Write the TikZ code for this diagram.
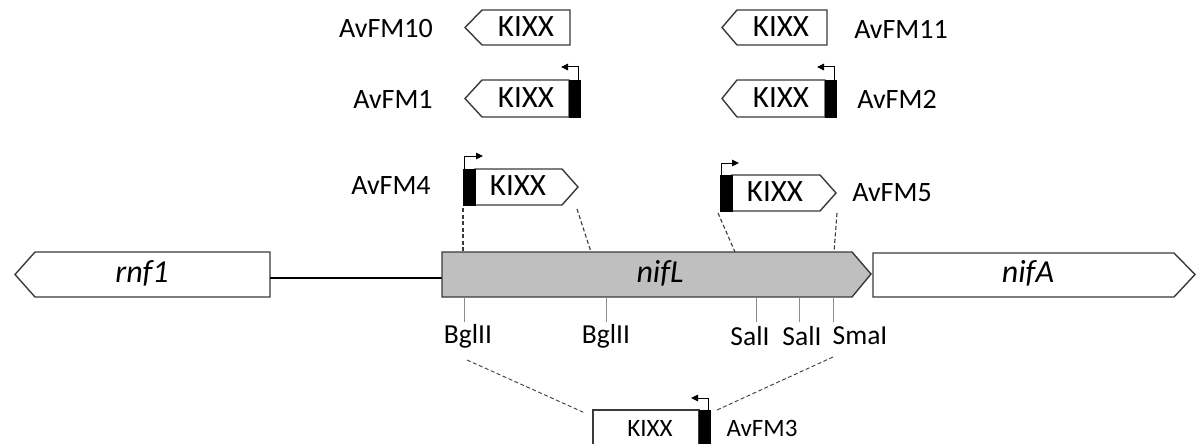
\documentclass[tikz,border=0pt]{standalone}
\usepackage{fontspec}
\setmainfont{Carlito}
\usetikzlibrary{arrows.meta}
\definecolor{edge}{HTML}{3A3A3A}
\definecolor{genegray}{HTML}{BFBFBF}
\definecolor{tickgray}{HTML}{8C8C8C}
\begin{document}
\begin{tikzpicture}[x=1pt,y=-1pt,
  gene/.style={draw=edge, line width=1.4pt, line join=miter, fill=white},
  marker/.style={fill=black, draw=black, line width=0.6pt},
  prom/.style={draw=black, line width=1pt, -{Triangle[length=7pt,width=6.5pt]}},
  link/.style={draw=edge, line width=1.1pt, dash pattern=on 4pt off 2.5pt},
  sitetick/.style={draw=tickgray, line width=1pt},
  big/.style={font=\fontsize{32}{36}\selectfont\itshape},
  kixx/.style={font=\fontsize{31}{34}\selectfont},
  tag/.style={font=\fontsize{28}{32}\selectfont},
  site/.style={font=\fontsize{27.5}{30}\selectfont},
  small/.style={font=\fontsize{25}{28}\selectfont}]
\useasboundingbox (0,0) rectangle (1199,444);
\clip (0,0) rectangle (1199,444);

% ---- chromosome: rnf1 - spacer - nifL - nifA ----
\draw[gene] (35,252) -- (270,252) -- (270,297) -- (35,297) -- (15,274.5) -- cycle;
\node[big] (rnf) at (142,273) {rnf1};
\draw[draw=black, line width=2pt] (270,278) -- (442,278);
\draw[gene, fill=genegray] (442,252) -- (852,252) -- (871,274) -- (852,297) -- (442,297) -- cycle;
\node[big] (nifL) at (660,273) {nifL};
\draw[gene] (873,253) -- (1174,253) -- (1195,274.5) -- (1174,297) -- (873,297) -- cycle;
\node[big] (nifA) at (1028,273) {nifA};

% ---- restriction sites ----
\foreach \x/\n in {464/b1, 606/b2, 756/s1, 799/s2, 833/m1}
  \draw[sitetick] (\x,297) -- (\x,322) coordinate (t\n);
\node[site] (bgl1) at (468,336) {BglII};
\node[site] (bgl2) at (606,336) {BglII};
\node[site] (sal1) at (750,336) {SalI};
\node[site] (sal2) at (802,336) {SalI};
\node[site] (sma)  at (860,336) {SmaI};

% ---- AvFM10 / AvFM11 (no promoter) ----
\draw[gene] (482,10) -- (570,10) -- (570,45) -- (482,45) -- (465,27.5) -- cycle;
\node[kixx] (k10) at (526,27) {KIXX};
\node[tag] (a10) at (386,29) {AvFM10};
\draw[gene] (737,10) -- (827,10) -- (827,45) -- (737,45) -- (722,27.5) -- cycle;
\node[kixx] (k11) at (781,27) {KIXX};
\node[tag] (a11) at (901,29) {AvFM11};

% ---- AvFM1 / AvFM2 ----
\draw[gene] (482,80) -- (569,80) -- (569,117) -- (482,117) -- (465,98.5) -- cycle;
\fill[marker] (569,80) rectangle (580,117);
\draw[prom] (578,80) -- (578,67) -- (561,67);
\node[kixx] (k1) at (526,98) {KIXX};
\node[tag] (a1) at (393,99) {AvFM1};
\draw[gene] (737,80) -- (825,80) -- (825,117) -- (737,117) -- (722,98.5) -- cycle;
\fill[marker] (825,80) rectangle (836,117);
\draw[prom] (834,80) -- (834,67) -- (817,67);
\node[kixx] (k2) at (781,98) {KIXX};
\node[tag] (a2) at (897,99) {AvFM2};

% ---- AvFM4 / AvFM5 ----
\draw[gene] (475,169) -- (562,169) -- (578,187) -- (562,205) -- (475,205) -- cycle;
\fill[marker] (463,169) rectangle (475,205);
\draw[prom] (464,169) -- (464,156) -- (483,156);
\node[kixx] (k4) at (518,186) {KIXX};
\node[tag] (a4) at (391,186) {AvFM4};
\draw[gene] (732,175) -- (820,175) -- (836,193) -- (820,211) -- (732,211) -- cycle;
\fill[marker] (720,175) rectangle (732,211);
\draw[prom] (721,175) -- (721,163) -- (739,163);
\node[kixx] (k5) at (775,192) {KIXX};
\node[tag] (a5) at (892,193) {AvFM5};

% insertion points on nifL
\coordinate (p4a) at (463,252);
\coordinate (p4b) at (591,252);
\coordinate (p5a) at (735,252);
\coordinate (p5b) at (834,252);
\draw[link] (463,208) -- (p4a);
\draw[link] (577,209) -- (p4b);
\draw[link] (718,213) -- (p5a);
\draw[link] (837,213) -- (p5b);

% ---- AvFM3 (replacement between BglII and SmaI) ----
\draw[gene] (593,410) rectangle (699,460);
\fill[marker] (699,410) rectangle (710,460);
\draw[prom] (708,410) -- (708,398) -- (691,398);
\node[small] (k3) at (650,428) {KIXX};
\node[small] (a3) at (762,428) {AvFM3};
\coordinate (c3a) at (585,413);
\coordinate (c3b) at (717,410);
\draw[link, line width=0.9pt] (467,360) -- (c3a);
\draw[link, line width=0.9pt] (833,357) -- (c3b);
\end{tikzpicture}
\end{document}
